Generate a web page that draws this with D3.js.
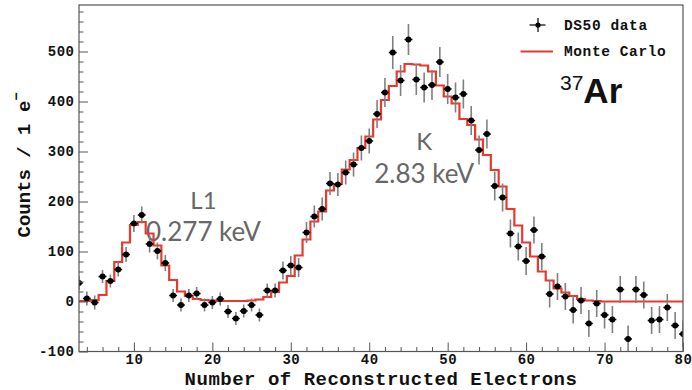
<!DOCTYPE html>
<html>
<head>
<meta charset="utf-8">
<script src="https://cdn.jsdelivr.net/npm/d3@7"></script>
<style>
  html, body { margin: 0; padding: 0; background: #fff; }
  svg { display: block; }
  .mono { font-family: "Liberation Mono", "DejaVu Sans Mono", monospace; font-weight: bold; }
</style>
</head>
<body>
<svg id="chart" width="692" height="390"></svg>
<script>
// Reconstructed-electron bins (1 e- wide, centred on integers)
const nElectrons = [3,4,5,6,7,8,9,10,11,12,13,14,15,16,17,18,19,20,21,22,23,24,25,26,27,28,29,30,
  31,32,33,34,35,36,37,38,39,40,41,42,43,44,45,46,47,48,49,50,51,52,53,54,55,56,57,58,59,60,
  61,62,63,64,65,66,67,68,69,70,71,72,73,74,75,76,77,78,79,80];

// DS50 background-subtracted counts per bin
const ds50Counts = [37,6,-2,50,41,64,94,156,173,115,101,77,12,-7,12,16,-7,-2,5,-20,-34,-19,-7,-27,22,22,
  62,72,68,138,170,185,236,234,258,274,307,321,375,418,498,442,524,444,428,433,479,425,408,415,362,303,335,
  231,208,136,110,81,143,90,15,30,10,-17,2,-44,-4,-27,-36,24,-75,24,13,-38,-36,-12,-48,-65];

// Statistical uncertainty on each DS50 bin
const ds50Errors = [14,14,14,13,13,14,15,17,17,17,17,16,13,13,13,13,13,13,13,13,13,13,13,13,14,14,
  18,19,19,21,22,23,23,23,24,24,25,25,28,29,33,31,31,31,30,30,30,30,30,29,29,29,29,
  29,28,28,28,28,27,27,27,27,27,27,27,27,27,27,27,27,27,27,27,27,27,27,27,27];

// Monte Carlo prediction per bin
const monteCarlo = [1,1,3,13,41,79,118,153,159,136,112,72,43,20,11,5,3,2,1,1,1,1,2,4,9,19,
  38,51,92,124,160,180,222,235,264,283,307,330,364,403,431,460,475,474,472,460,432,410,396,365,353,324,293,
  263,230,185,152,118,90,60,42,26,18,11,5,2,1,0,0,0,0,0,0,0,0,0,0,0];

const xMajorTicks = [10,20,30,40,50,60,70,80];
const xMinorTicks = [4,6,8,12,14,16,18,22,24,26,28,32,34,36,38,42,44,46,48,52,54,56,58,62,64,66,68,72,74,76,78];
const yMajorTicks = [-100,0,100,200,300,400,500];
const yMinorTicks = [-80,-60,-40,-20,20,40,60,80,120,140,160,180,220,240,260,280,320,340,360,380,420,440,460,480,520,540,560,580];

// Peak names and energies, anchored in data coordinates
const peakLabels = [
  { name: "L1", energy: "0.277 keV", at: 18.87, nameY: 185, energyY: 122 },
  { name: "K",  energy: "2.83 keV",  at: 47.0,  nameY: 304, energyY: 238 }
];

const svg = d3.select("#chart");
const x = d3.scaleLinear().domain([3, 80]).range([79, 683]);
const y = d3.scaleLinear().domain([-100, 593]).range([351.5, 5]);

const MC_RED = "#e8392e";
const AXIS = "#555";

svg.append("defs").append("clipPath").attr("id", "plotArea")
  .append("rect")
  .attr("x", x(3)).attr("y", y(593))
  .attr("width", x(80) - x(3)).attr("height", y(-100) - y(593));

// Peak annotations (drawn underneath the data)
const ann = svg.append("g")
  .attr("font-family", "Lato, 'Open Sans', sans-serif")
  .attr("fill", "#676767")
  .attr("text-anchor", "middle");
peakLabels.forEach(p => {
  ann.append("text").attr("x", x(p.at)).attr("y", y(p.nameY))
    .attr("font-size", 24).text(p.name);
  ann.append("text").attr("x", x(p.at)).attr("y", y(p.energyY))
    .attr("font-size", 26).text(p.energy);
});

const plot = svg.append("g").attr("clip-path", "url(#plotArea)");

// Monte Carlo histogram as a step line over bin edges
const mcSteps = monteCarlo.map((v, i) => ({ edge: nElectrons[i] - 0.5, v }));
mcSteps.push({ edge: nElectrons[nElectrons.length - 1] + 0.5, v: monteCarlo[monteCarlo.length - 1] });
plot.append("path")
  .datum(mcSteps)
  .attr("fill", "none")
  .attr("stroke", MC_RED)
  .attr("stroke-width", 2.2)
  .attr("d", d3.line().x(d => x(d.edge)).y(d => y(d.v)).curve(d3.curveStepAfter));

// DS50 data points with error bars
const pts = nElectrons.map((n, i) => ({ n, c: ds50Counts[i], e: ds50Errors[i] }));
const pg = plot.selectAll("g.pt").data(pts).join("g").attr("class", "pt");
pg.append("line")
  .attr("x1", d => x(d.n)).attr("x2", d => x(d.n))
  .attr("y1", d => y(d.c - d.e)).attr("y2", d => y(d.c + d.e))
  .attr("stroke", "#808080").attr("stroke-width", 1.6);
pg.append("line")
  .attr("x1", d => x(d.n - 0.5)).attr("x2", d => x(d.n + 0.5))
  .attr("y1", d => y(d.c)).attr("y2", d => y(d.c))
  .attr("stroke", "#000").attr("stroke-width", 1.5);
pg.append("circle")
  .attr("cx", d => x(d.n)).attr("cy", d => y(d.c))
  .attr("r", 3).attr("fill", "#000");

// Axes: inward major and minor ticks
const xAxisG = svg.append("g").attr("transform", `translate(0,${y(-100)})`);
xAxisG.append("g").call(d3.axisBottom(x).tickValues(xMinorTicks).tickSize(-4.5).tickFormat(""));
xAxisG.append("g").call(d3.axisBottom(x).tickValues(xMajorTicks).tickSize(-9).tickPadding(3).tickFormat(d => String(d)));

const yAxisG = svg.append("g").attr("transform", `translate(${x(3)},0)`);
yAxisG.append("g").call(d3.axisLeft(y).tickValues(yMinorTicks).tickSize(-4.5).tickFormat(""));
yAxisG.append("g").call(d3.axisLeft(y).tickValues(yMajorTicks).tickSize(-9).tickPadding(4.5).tickFormat(d => String(d)));

svg.selectAll(".domain").remove();
svg.selectAll(".tick line").attr("stroke", AXIS).attr("stroke-width", 1);
svg.selectAll(".tick text")
  .attr("class", "mono")
  .attr("font-size", 14)
  .attr("letter-spacing", 0.5)
  .attr("fill", "#111");

// Frame
svg.append("rect")
  .attr("x", x(3)).attr("y", y(593))
  .attr("width", x(80) - x(3)).attr("height", y(-100) - y(593))
  .attr("fill", "none").attr("stroke", AXIS).attr("stroke-width", 1.2);

// Axis titles
svg.append("text")
  .attr("class", "mono")
  .attr("x", (x(3) + x(80)) / 2).attr("y", 385)
  .attr("text-anchor", "middle")
  .attr("font-size", 19).attr("letter-spacing", 0.5)
  .attr("fill", "#111")
  .text("Number of Reconstructed Electrons");

const yTitle = svg.append("text")
  .attr("class", "mono")
  .attr("transform", "translate(30,237.5) rotate(-90)")
  .attr("text-anchor", "start")
  .attr("font-size", 19)
  .attr("fill", "#111");
yTitle.append("tspan").text("Counts / 1 e");
yTitle.append("tspan").attr("dy", -9).attr("font-size", 14).text("\u2212");

// Legend
const lg = svg.append("g");
lg.append("line").attr("x1", 538).attr("x2", 538).attr("y1", 18).attr("y2", 32)
  .attr("stroke", "#000").attr("stroke-width", 1.2);
lg.append("line").attr("x1", 529.5).attr("x2", 545.5).attr("y1", 25).attr("y2", 25)
  .attr("stroke", "#000").attr("stroke-width", 1.2);
lg.append("circle").attr("cx", 538).attr("cy", 25).attr("r", 2.6).attr("fill", "#000");
lg.append("text").attr("class", "mono").attr("x", 564).attr("y", 29.5)
  .attr("font-size", 14.5).attr("letter-spacing", 0.6).attr("fill", "#111").text("DS50 data");
lg.append("line").attr("x1", 520.5).attr("x2", 553).attr("y1", 51.5).attr("y2", 51.5)
  .attr("stroke", MC_RED).attr("stroke-width", 2.2);
lg.append("text").attr("class", "mono").attr("x", 564).attr("y", 55.5)
  .attr("font-size", 14.5).attr("letter-spacing", 0.6).attr("fill", "#111").text("Monte Carlo");

// Isotope tag
const iso = svg.append("text")
  .attr("x", 560).attr("y", 103.3)
  .attr("font-family", "'Liberation Sans', Arial, sans-serif")
  .attr("fill", "#111");
iso.append("tspan").attr("font-size", 21).attr("dy", -13.3).text("37");
iso.append("tspan").attr("font-size", 35).attr("font-weight", "bold").attr("dy", 13.3).text("Ar");
</script>
</body>
</html>
